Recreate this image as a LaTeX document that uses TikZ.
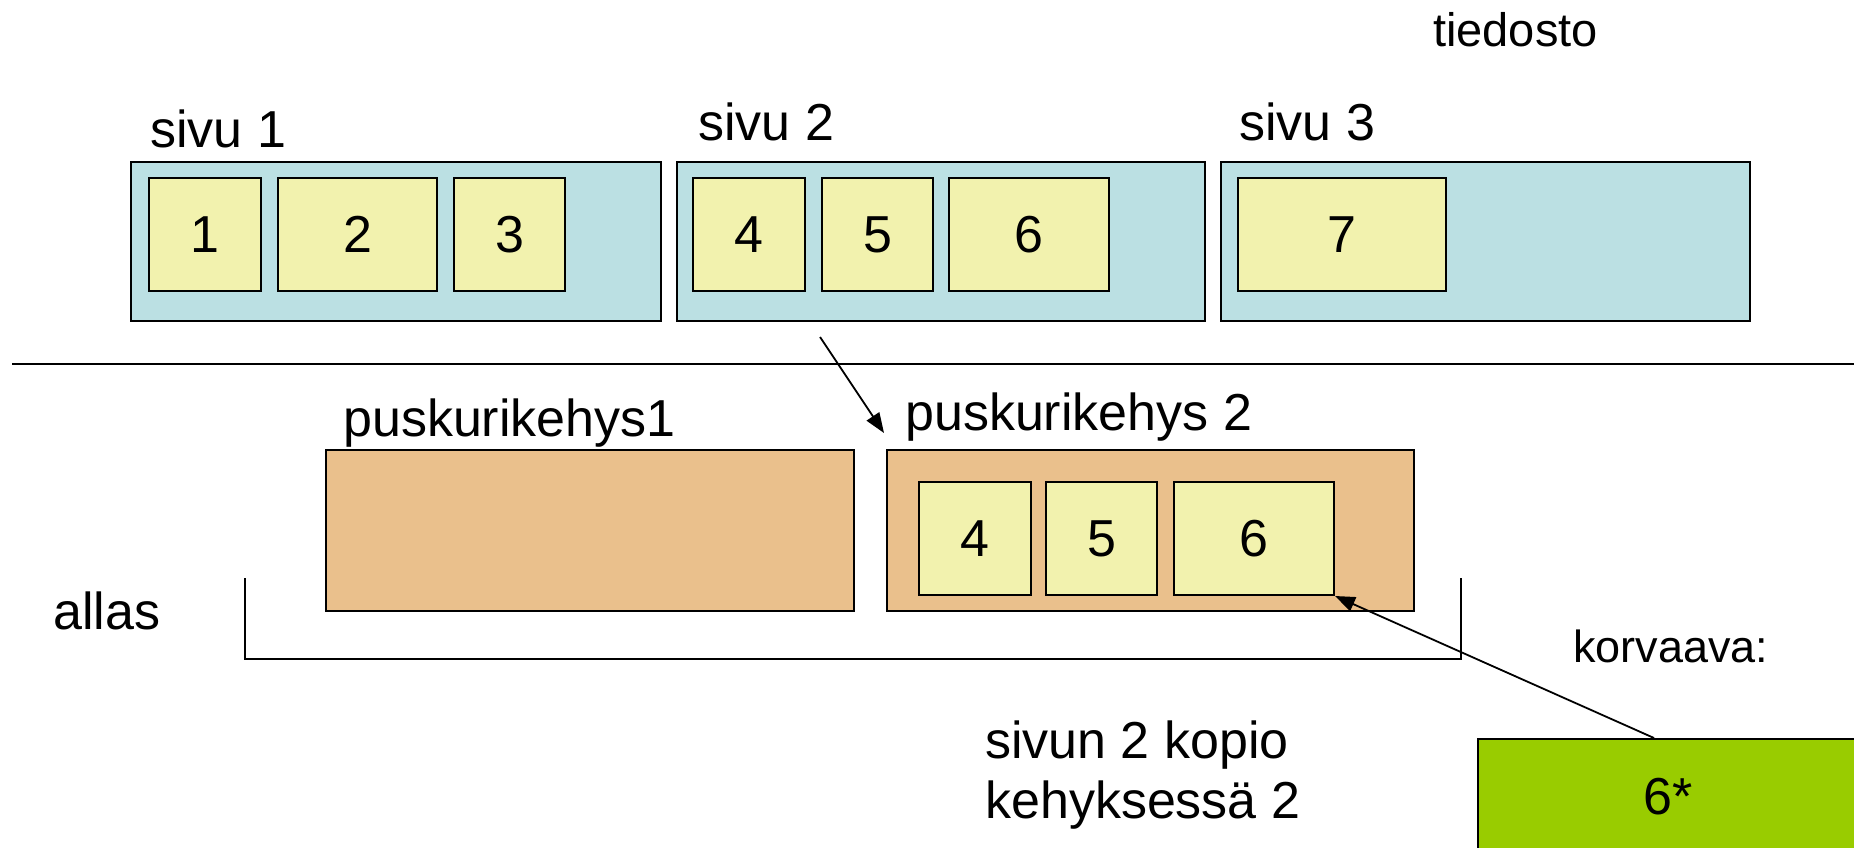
\documentclass[tikz,border=0pt]{standalone}
\usepackage{fontspec}
\setmainfont{Liberation Sans}
\usetikzlibrary{arrows.meta}
\definecolor{pageblue}{RGB}{187,224,227}
\definecolor{recyellow}{RGB}{242,242,174}
\definecolor{frameorange}{RGB}{234,192,140}
\definecolor{newgreen}{RGB}{153,204,0}
\begin{document}
\begin{tikzpicture}[x=1pt, y=-1pt,
  box/.style={draw, line width=2pt, inner sep=0pt, anchor=north west},
  page/.style={box, fill=pageblue, minimum height=159pt},
  frame/.style={box, fill=frameorange, minimum height=161pt},
  rec/.style={box, fill=recyellow, minimum height=113pt, font=\fontsize{52}{62}\selectfont},
  lbl/.style={anchor=base west, inner sep=0pt, font=\fontsize{52}{62}\selectfont},
  small/.style={lbl, font=\fontsize{46}{55}\selectfont},
  link/.style={line width=1.8pt, -{Triangle[length=20pt, width=15pt]}}]
\useasboundingbox (0,0) rectangle (1854,848);
\clip (0,0) rectangle (1854,848);
% file pages
\node[lbl, font=\fontsize{47}{56}\selectfont] (tiedosto) at (1433,47) {tiedosto};
\node[lbl] (sivu1) at (150,147) {sivu 1};
\node[lbl] (sivu2) at (698,140) {sivu 2};
\node[lbl] (sivu3) at (1239,140) {sivu 3};
\node[page, minimum width=530pt] (page1) at (130,161) {};
\node[page, minimum width=528pt] (page2) at (676,161) {};
\node[page, minimum width=529pt] (page3) at (1220,161) {};
\node[rec, minimum width=112pt] (rec1) at (148,177) {1};
\node[rec, minimum width=159pt] (rec2) at (277,177) {2};
\node[rec, minimum width=111pt] (rec3) at (453,177) {3};
\node[rec, minimum width=112pt] (rec4) at (692,177) {4};
\node[rec, minimum width=111pt] (rec5) at (821,177) {5};
\node[rec, minimum width=160pt] (rec6) at (948,177) {6};
\node[rec, minimum width=208pt] (rec7) at (1237,177) {7};
\draw[line width=2pt] (12,364) -- (1854,364);
% buffer pool
\node[lbl] (pk1) at (343,436) {puskurikehys1};
\node[lbl] (pk2) at (905,430) {puskurikehys 2};
\node[frame, minimum width=528pt] (frame1) at (325,449) {};
\node[frame, minimum width=527pt] (frame2) at (886,449) {};
\node[rec, minimum width=112pt] (copy4) at (918,481) {4};
\node[rec, minimum width=111pt] (copy5) at (1045,481) {5};
\node[rec, minimum width=160pt] (copy6) at (1173,481) {6};
\node[lbl] (allas) at (53,629) {allas};
\draw[line width=2pt] (245,578) -- (245,659) -- (1461,659) -- (1461,578);
\node[lbl, font=\fontsize{45}{54}\selectfont] (korvaava) at (1573,662) {korvaava:};
\node[lbl] (kopio1) at (985,758) {sivun 2 kopio};
\node[lbl] (kopio2) at (985,818) {kehyksessä 2};
\node[box, fill=newgreen, minimum width=380pt, minimum height=116pt,
  font=\fontsize{52}{62}\selectfont] (newrec) at (1477,738) {6*};
% reading and replacing
\coordinate (fetch) at (820,337);
\coordinate (fetchend) at (884,433);
\draw[link] (fetch) -- (fetchend);
\draw[link] ([xshift=-14pt]newrec.north) -- (copy6.south east);
\end{tikzpicture}
\end{document}
